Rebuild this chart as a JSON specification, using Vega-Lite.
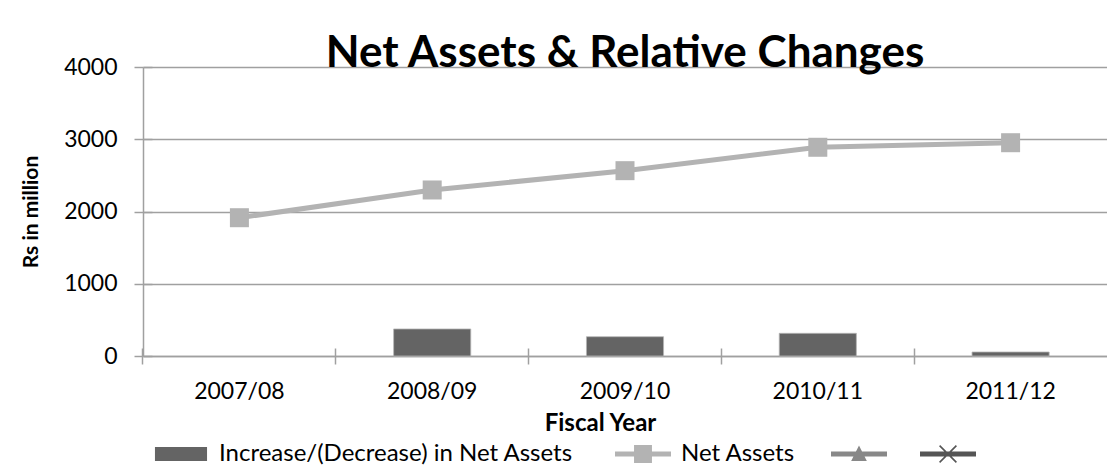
{
  "$schema": "https://vega.github.io/schema/vega-lite/v6.json",
  "autosize": {"type": "none"},
  "width": 964,
  "height": 289,
  "padding": {"left": 143, "top": 67, "right": 0, "bottom": 114},
  "background": "white",
  "title": {
    "text": "Net Assets & Relative Changes",
    "font": "Lato",
    "fontSize": 44,
    "fontWeight": "bold",
    "color": "#000000",
    "anchor": "middle",
    "frame": "group",
    "baseline": "alphabetic",
    "offset": -55
  },
  "config": {
    "view": {"stroke": null},
    "font": "Lato"
  },
  "data": {
    "values": [
      {"year": "2007/08", "increase": null, "net": 1914},
      {"year": "2008/09", "increase": 374, "net": 2298},
      {"year": "2009/10", "increase": 267, "net": 2565},
      {"year": "2010/11", "increase": 314, "net": 2889},
      {"year": "2011/12", "increase": 55, "net": 2952}
    ]
  },
  "resolve": {"axis": {"x": "independent", "y": "independent"}},
  "layer": [
    {
      "mark": {"type": "bar", "stroke": "#b5b5b5", "strokeWidth": 0.8},
      "encoding": {
        "x": {
          "field": "year",
          "type": "nominal",
          "sort": ["2007/08", "2008/09", "2009/10", "2010/11", "2011/12"],
          "scale": {"paddingInner": 0.6, "paddingOuter": 0.3},
          "axis": {
            "orient": "bottom",
            "title": "Fiscal Year",
            "titleFont": "Lato",
            "titleFontSize": 24,
            "titleFontWeight": "bold",
            "titleColor": "#000000",
            "titleX": 457,
            "titleY": 74,
            "titleBaseline": "alphabetic",
            "labelAngle": 0,
            "labelFont": "Lato",
            "labelFontSize": 23,
            "labelColor": "#000000",
            "labelPadding": 16,
            "bandPosition": -0.75,
            "tickSize": 8,
            "tickColor": "#a0a0a0",
            "tickWidth": 1.5,
            "domainColor": "#a0a0a0",
            "domainWidth": 1.5,
            "grid": false
          }
        },
        "y": {
          "field": "increase",
          "type": "quantitative",
          "scale": {"domain": [0, 4000]},
          "axis": {
            "orient": "left",
            "title": "Rs in million",
            "titleFont": "Lato",
            "titleFontSize": 21,
            "titleFontWeight": "bold",
            "titleColor": "#000000",
            "titlePadding": 22,
            "values": [0, 1000, 2000, 3000, 4000],
            "format": "d",
            "labelFont": "Lato",
            "labelFontSize": 23,
            "labelColor": "#000000",
            "labelPadding": 17,
            "tickSize": 9,
            "tickColor": "#a0a0a0",
            "tickWidth": 1.5,
            "domainColor": "#a0a0a0",
            "domainWidth": 1.5,
            "grid": true,
            "gridColor": "#a0a0a0",
            "gridWidth": 1.5
          }
        },
        "color": {
          "datum": "Increase/(Decrease) in Net Assets",
          "type": "nominal",
          "scale": {
            "domain": ["Increase/(Decrease) in Net Assets", "Net Assets", "Series3", "Series4"],
            "range": ["#646464", "#b3b3b3", "#888888", "#555555"]
          },
          "legend": {
            "orient": "none",
            "legendX": 10,
            "legendY": 359,
            "direction": "horizontal",
            "columns": 4,
            "title": null,
            "padding": 0,
            "symbolSize": 3136,
            "symbolStrokeWidth": 0,
            "labelFont": "Lato",
            "labelFontSize": 24,
            "labelColor": "#000000",
            "labelOffset": 10,
            "labelLimit": 600,
            "columnPadding": 23,
            "labelExpr": "datum.value == 'Series3' || datum.value == 'Series4' ? '' : datum.value == 'Net Assets' ? 'Net Assets\u00a0\u00a0\u200b' : datum.label + '\u00a0\u00a0\u00a0\u200b'"
          }
        }
      }
    },
    {
      "mark": {"type": "line", "strokeWidth": 5, "point": {"shape": "square", "size": 361, "filled": true, "opacity": 1}},
      "encoding": {
        "x": {
          "field": "year",
          "type": "nominal",
          "sort": ["2007/08", "2008/09", "2009/10", "2010/11", "2011/12"],
          "axis": {
            "orient": "bottom",
            "title": null,
            "labels": false,
            "domain": false,
            "grid": false,
            "bandPosition": -0.75,
            "tickSize": -8,
            "tickColor": "#a0a0a0",
            "tickWidth": 1.5
          }
        },
        "y": {
          "field": "net",
          "type": "quantitative",
          "axis": {
            "orient": "left",
            "title": null,
            "labels": false,
            "domain": false,
            "grid": false,
            "values": [0, 1000, 2000, 3000, 4000],
            "tickSize": -9,
            "tickColor": "#a0a0a0",
            "tickWidth": 1.5
          }
        },
        "color": {"datum": "Net Assets", "type": "nominal", "legend": null}
      }
    },
    {
      "transform": [{"filter": "false"}],
      "mark": {"type": "point", "filled": true, "opacity": 1, "strokeWidth": 0},
      "encoding": {
        "color": {"datum": "Net Assets", "type": "nominal", "legend": {
            "orient": "none",
            "legendX": 10,
            "legendY": 359,
            "direction": "horizontal",
            "columns": 4,
            "title": null,
            "padding": 0,
            "symbolSize": 3136,
            "symbolStrokeWidth": 0,
            "labelFont": "Lato",
            "labelFontSize": 24,
            "labelColor": "#000000",
            "labelOffset": 10,
            "labelLimit": 600,
            "columnPadding": 23,
            "labelExpr": "datum.value == 'Series3' || datum.value == 'Series4' ? '' : datum.value == 'Net Assets' ? 'Net Assets\u00a0\u00a0\u200b' : datum.label + '\u00a0\u00a0\u00a0\u200b'"
          }},
        "shape": {
          "datum": "Net Assets",
          "type": "nominal",
          "scale": {
            "domain": ["Increase/(Decrease) in Net Assets", "Net Assets", "Series3", "Series4"],
            "range": [
              "M-0.93,-0.25H0.93V0.25H-0.93Z",
              "M-1,-0.09H1V0.09H-1Z M-0.32,-0.32H0.32V0.32H-0.32Z",
              "M-1,-0.09H1V0.09H-1Z M0,-0.3L0.28,0.25H-0.28Z",
              "M-1,-0.09H1V0.09H-1Z M-0.32,-0.28L-0.28,-0.32L0.32,0.28L0.28,0.32Z M0.28,-0.32L0.32,-0.28L-0.28,0.32L-0.32,0.28Z"
            ]
          },
          "legend": {
            "orient": "none",
            "legendX": 10,
            "legendY": 359,
            "direction": "horizontal",
            "columns": 4,
            "title": null,
            "padding": 0,
            "symbolSize": 3136,
            "symbolStrokeWidth": 0,
            "labelFont": "Lato",
            "labelFontSize": 24,
            "labelColor": "#000000",
            "labelOffset": 10,
            "labelLimit": 600,
            "columnPadding": 23,
            "labelExpr": "datum.value == 'Series3' || datum.value == 'Series4' ? '' : datum.value == 'Net Assets' ? 'Net Assets\u00a0\u00a0\u200b' : datum.label + '\u00a0\u00a0\u00a0\u200b'"
          }
        }
      }
    }
  ]
}
